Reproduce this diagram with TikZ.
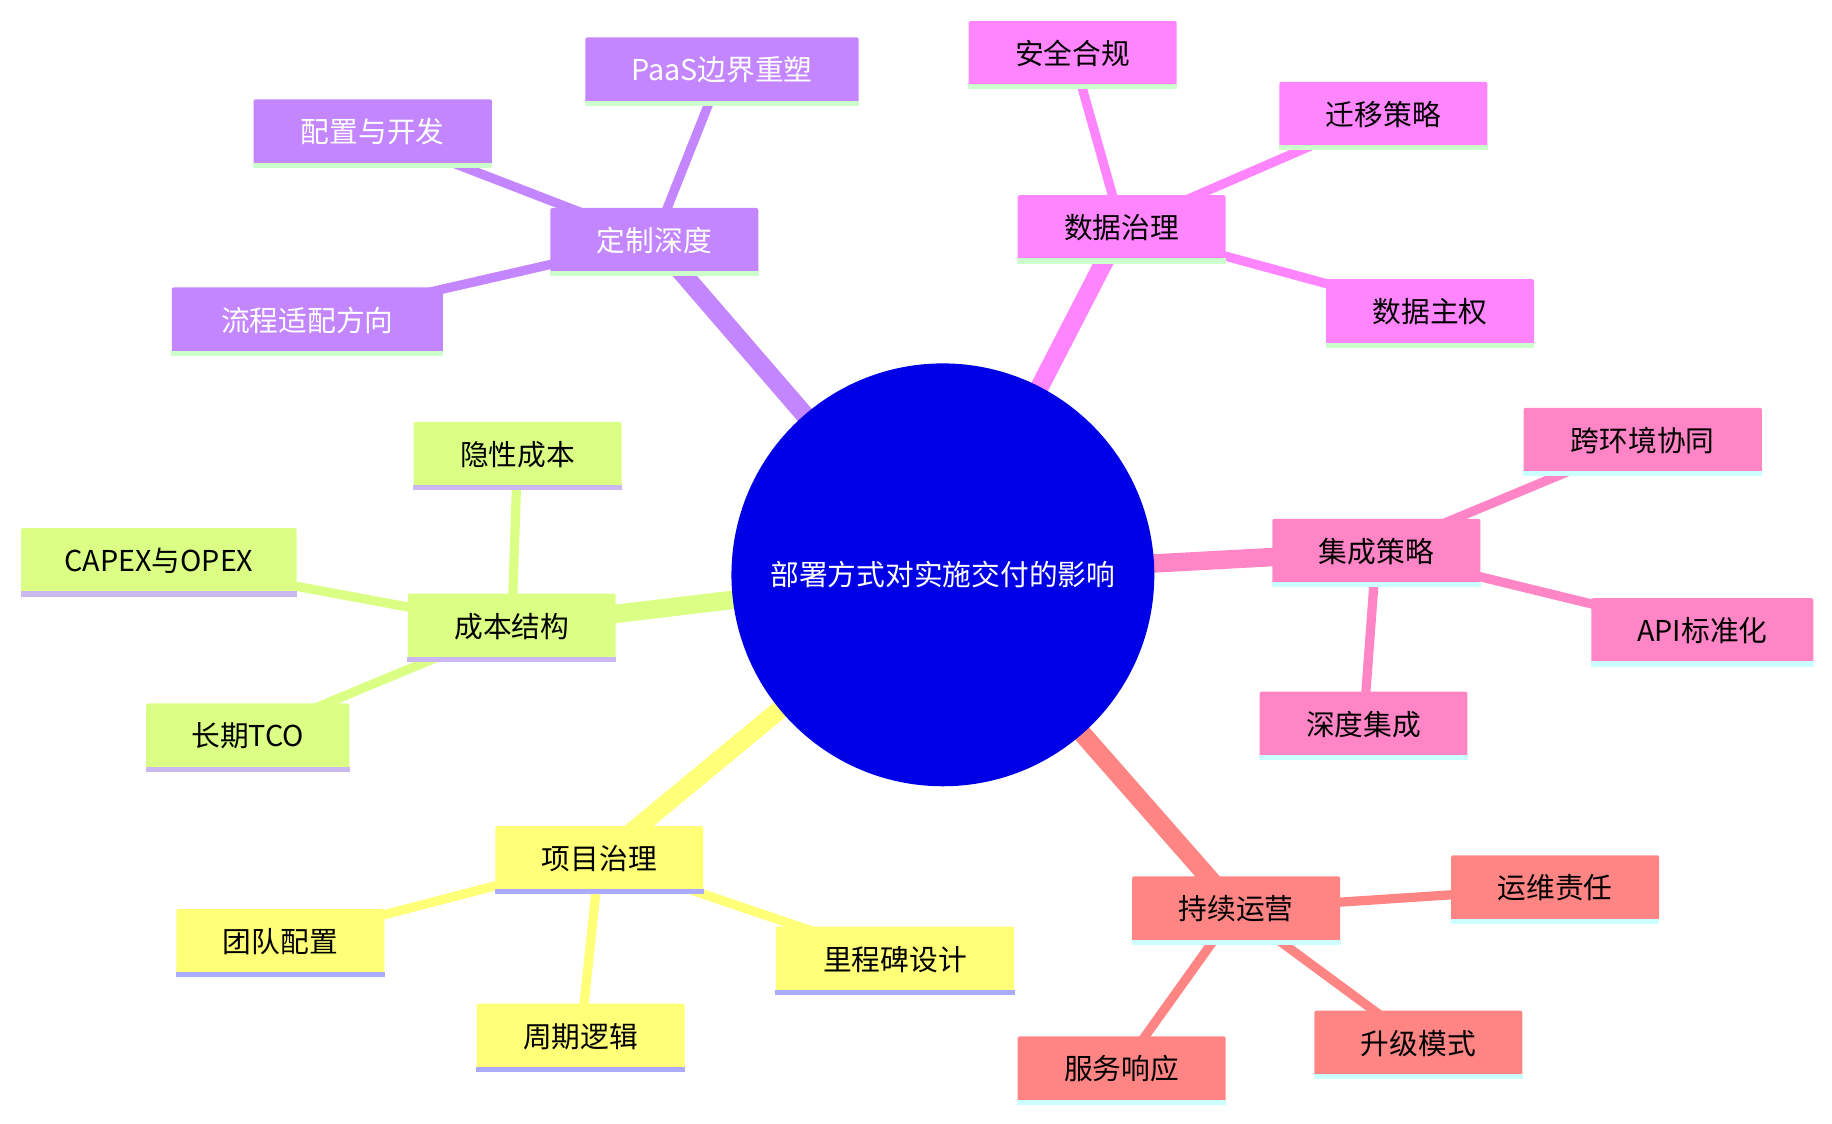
\documentclass[tikz,border=0pt]{standalone}
\usepackage{fontspec}
\setmainfont{Noto Sans CJK SC}
\usetikzlibrary{backgrounds}
\definecolor{cPur}{HTML}{C386FF}
\definecolor{cMag}{HTML}{FF85FF}
\definecolor{cRos}{HTML}{FF85C6}
\definecolor{cSal}{HTML}{FF8585}
\definecolor{cYel}{HTML}{FFFF78}
\definecolor{cLim}{HTML}{DBFF85}
\definecolor{uGrn}{HTML}{CCFFCC}
\definecolor{uCyn}{HTML}{CCFFFF}
\definecolor{uBlu}{HTML}{AAAAFF}
\definecolor{uLav}{HTML}{CCB8F0}
\definecolor{cBlue}{HTML}{0000E6}
\tikzset{
  x=0.02cm,y=-0.02cm,
  box/.style={fill=#1,minimum height=1.12cm,inner sep=0pt,font=\fontsize{14}{16}\selectfont,rounded corners=1pt},
  ul/.style={line width=2.5pt},
  br/.style={line width=9pt,#1},
  lf/.style={line width=4.5pt,#1},
}
\newcommand{\mknode}[6]{% name, x, y, width, fill, underline ; text
  \node[box=#5,minimum width=#4*0.02cm] (#1) at (#2,#3) {#6};
}
\begin{document}
\begin{tikzpicture}
\useasboundingbox (0,0) rectangle (1568,962);
\node[circle,fill=cBlue,minimum size=7.24cm,inner sep=0pt,text=white,font=\fontsize{14}{16}\selectfont] (c) at (807,492) {部署方式对实施交付的影响};
% purple
\node[box=cPur,minimum width=3.56cm,text=white] (p) at (560,206) {定制深度};
\node[box=cPur,minimum width=4.68cm,text=white] (p1) at (618,60) {PaaS边界重塑};
\node[box=cPur,minimum width=4.08cm,text=white] (p2) at (319,113) {配置与开发};
\node[box=cPur,minimum width=4.64cm,text=white] (p3) at (263,274) {流程适配方向};
% magenta
\node[box=cMag,minimum width=3.56cm] (m) at (960,195) {数据治理};
\node[box=cMag,minimum width=3.56cm] (m1) at (918,46) {安全合规};
\node[box=cMag,minimum width=3.56cm] (m2) at (1184,98) {迁移策略};
\node[box=cMag,minimum width=3.56cm] (m3) at (1224,267) {数据主权};
% rose
\node[box=cRos,minimum width=3.56cm] (r) at (1178,472) {集成策略};
\node[box=cRos,minimum width=4.08cm] (r1) at (1406,377) {跨环境协同};
\node[box=cRos,minimum width=3.8cm] (r2) at (1457,540) {API标准化};
\node[box=cRos,minimum width=3.56cm] (r3) at (1167,620) {深度集成};
% salmon
\node[box=cSal,minimum width=3.56cm] (s) at (1058,778) {持续运营};
\node[box=cSal,minimum width=3.56cm] (s1) at (1331,760) {运维责任};
\node[box=cSal,minimum width=3.56cm] (s2) at (1214,893) {升级模式};
\node[box=cSal,minimum width=3.56cm] (s3) at (960,915) {服务响应};
% yellow
\node[box=cYel,minimum width=3.56cm] (y) at (513,735) {项目治理};
\node[box=cYel,minimum width=3.56cm] (y1) at (240,806) {团队配置};
\node[box=cYel,minimum width=4.08cm] (y2) at (766,821) {里程碑设计};
\node[box=cYel,minimum width=3.56cm] (y3) at (497,887) {周期逻辑};
% lime
\node[box=cLim,minimum width=3.56cm] (l) at (438,536) {成本结构};
\node[box=cLim,minimum width=3.56cm] (l1) at (443,389) {隐性成本};
\node[box=cLim,minimum width=4.72cm] (l2) at (136,480) {CAPEX与OPEX};
\node[box=cLim,minimum width=3.48cm] (l3) at (212,630) {长期TCO};
% underlines
\foreach \n in {p,p1,p2,p3,m,m1,m2,m3}{\draw[ul,uGrn] (\n.south west)--(\n.south east);}
\foreach \n in {r,r1,r2,r3,s,s1,s2,s3}{\draw[ul,uCyn] (\n.south west)--(\n.south east);}
\foreach \n in {y,y1,y2,y3}{\draw[ul,uBlu] (\n.south west)--(\n.south east);}
\foreach \n in {l,l1,l2,l3}{\draw[ul,uLav] (\n.south west)--(\n.south east);}
\begin{scope}[on background layer]
\draw[br=cPur] (c.center)--(p.center);
\draw[br=cMag] (c.center)--(m.center);
\draw[br=cRos] (c.center)--(r.center);
\draw[br=cSal] (c.center)--(s.center);
\draw[br=cYel] (c.center)--(y.center);
\draw[br=cLim] (c.center)--(l.center);
\foreach \a in {p1,p2,p3}{\draw[lf=cPur] (p.center)--(\a.center);}
\foreach \a in {m1,m2,m3}{\draw[lf=cMag] (m.center)--(\a.center);}
\foreach \a in {r1,r2,r3}{\draw[lf=cRos] (r.center)--(\a.center);}
\foreach \a in {s1,s2,s3}{\draw[lf=cSal] (s.center)--(\a.center);}
\foreach \a in {y1,y2,y3}{\draw[lf=cYel] (y.center)--(\a.center);}
\foreach \a in {l1,l2,l3}{\draw[lf=cLim] (l.center)--(\a.center);}
\end{scope}
\end{tikzpicture}
\end{document}
